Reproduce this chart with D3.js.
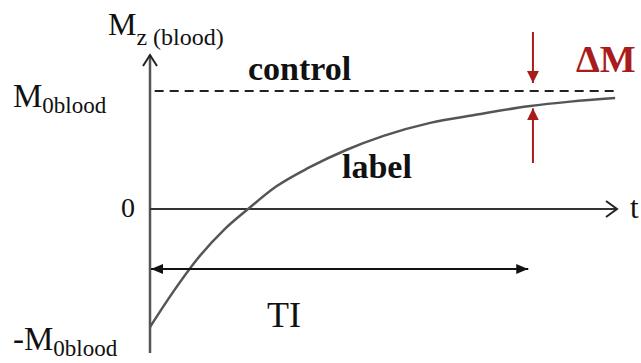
<!DOCTYPE html>
<html>
<head>
<meta charset="utf-8">
<script src="https://cdn.jsdelivr.net/npm/d3@7"></script>
<style>
  @font-face {
    font-family: "ChartSerif";
    font-weight: 400;
    src: local("Liberation Serif"), local("LiberationSerif"), local("Tinos"), local("Times New Roman");
  }
  @font-face {
    font-family: "ChartSerif";
    font-weight: 700;
    src: local("Liberation Serif Bold"), local("LiberationSerif-Bold"), local("Tinos Bold"), local("Times New Roman Bold");
  }
  .serif { font-family: "ChartSerif", "Liberation Serif", "Tinos", "Times New Roman", "FreeSerif"; }
</style>
</head>
<body style="margin:0">
<svg id="chart" width="641" height="363"></svg>
<script>
// Labelled-blood longitudinal magnetisation recovery after inversion.
// Time in arbitrary units, magnetisation in units of M0blood.
const labelT = [0, 5, 10, 16, 21, 27, 34, 42, 50, 60, 70, 81, 90, 99.6];
const labelM = [-1.0, -0.70, -0.43, -0.17, 0, 0.19, 0.35, 0.50, 0.62, 0.73, 0.80, 0.87, 0.91, 0.94];

// Control (non-inverted) blood stays at equilibrium.
const controlT = [1, 99.6];
const controlM = [1, 1];

// Axis tick values and their labels
const tickValues = [1, 0, -1];
const tickLabels = [["M", "0blood"], ["0", ""], ["-M", "0blood"]];

// Inversion time and the point where the difference is read out
const inversionTime = 81;
const readoutTime = 82;

const tMax = 100;
const mTop = 1.305, mBottom = -1.22;

const svg = d3.select("#chart");

// every text element gets the serif face directly
function label(sel) {
  return sel.append("text")
    .attr("class", "serif")
    .style("font-family", '"Liberation Serif", "ChartSerif", "Tinos", "Times New Roman", "FreeSerif"');
}

const x = d3.scaleLinear().domain([0, tMax]).range([150, 617]);
const y = d3.scaleLinear().domain([-1, 1]).range([327, 91]);

const red = "#a81c1c";

// arrow markers
const defs = svg.append("defs");
defs.append("marker").attr("id", "tri").attr("viewBox", "0 0 12 10")
  .attr("refX", 12).attr("refY", 5).attr("markerWidth", 12).attr("markerHeight", 10)
  .attr("markerUnits", "userSpaceOnUse").attr("orient", "auto-start-reverse")
  .append("path").attr("d", "M0,0L12,5L0,10Z").attr("fill", "#111");
defs.append("marker").attr("id", "redTri").attr("viewBox", "0 0 12 12")
  .attr("refX", 12).attr("refY", 6).attr("markerWidth", 12).attr("markerHeight", 12)
  .attr("markerUnits", "userSpaceOnUse").attr("orient", "auto")
  .append("path").attr("d", "M0,0L12,6L0,12Z").attr("fill", red);

// vertical axis with open chevron
svg.append("line")
  .attr("x1", x(0)).attr("x2", x(0))
  .attr("y1", y(mBottom)).attr("y2", y(mTop))
  .attr("stroke", "#555").attr("stroke-width", 2.5);
svg.append("path")
  .attr("d", `M${x(0) - 7},${y(mTop) + 11}L${x(0)},${y(mTop)}L${x(0) + 7},${y(mTop) + 11}`)
  .attr("fill", "none").attr("stroke", "#222").attr("stroke-width", 2);

// time axis through zero with open chevron
svg.append("line")
  .attr("x1", x(0)).attr("x2", x(tMax))
  .attr("y1", y(0)).attr("y2", y(0))
  .attr("stroke", "#333").attr("stroke-width", 1.8);
svg.append("path")
  .attr("d", `M${x(tMax) - 11},${y(0) - 8}L${x(tMax)},${y(0)}L${x(tMax) - 11},${y(0) + 8}`)
  .attr("fill", "none").attr("stroke", "#222").attr("stroke-width", 2);

// control level (dashed)
svg.append("path")
  .datum(controlT.map((t, i) => [t, controlM[i]]))
  .attr("d", d3.line().x(d => x(d[0])).y(d => y(d[1])))
  .attr("fill", "none").attr("stroke", "#222").attr("stroke-width", 2)
  .attr("stroke-dasharray", "9,6");

// labelled recovery curve
svg.append("path")
  .datum(labelT.map((t, i) => [t, labelM[i]]))
  .attr("d", d3.line().curve(d3.curveMonotoneX).x(d => x(d[0])).y(d => y(d[1])))
  .attr("fill", "none").attr("stroke", "#555").attr("stroke-width", 2.5);

// TI double arrow
const tiY = 269;
svg.append("line")
  .attr("x1", x(0) + 1).attr("x2", x(inversionTime))
  .attr("y1", tiY).attr("y2", tiY)
  .attr("stroke", "#111").attr("stroke-width", 2)
  .attr("marker-start", "url(#tri)").attr("marker-end", "url(#tri)");
label(svg).attr("x", 267).attr("y", 327)
  .attr("font-size", 36).attr("fill", "#111").text("TI");

// ΔM arrows
const xr = x(readoutTime);
svg.append("line")
  .attr("x1", xr).attr("x2", xr).attr("y1", 32).attr("y2", y(1) - 8)
  .attr("stroke", red).attr("stroke-width", 2).attr("marker-end", "url(#redTri)");
svg.append("line")
  .attr("x1", xr).attr("x2", xr).attr("y1", 163).attr("y2", y(0.87) + 2)
  .attr("stroke", red).attr("stroke-width", 2).attr("marker-end", "url(#redTri)");
label(svg).attr("x", 576).attr("y", 72)
  .attr("font-size", 38).attr("font-weight", "bold").attr("fill", red).text("ΔM");

// series labels
label(svg).attr("x", 248).attr("y", 80)
  .attr("font-size", 34).attr("font-weight", "bold").attr("fill", "#111").text("control");
label(svg).attr("x", 342).attr("y", 178)
  .attr("font-size", 34).attr("font-weight", "bold").attr("fill", "#111").text("label");

// axis titles
const yt = label(svg).attr("x", 108).attr("y", 35).attr("fill", "#111");
yt.append("tspan").attr("font-size", 32).text("M");
yt.append("tspan").attr("font-size", 24).attr("dy", 10).text("z (blood)");
label(svg).attr("x", 630).attr("y", y(0) + 9)
  .attr("font-size", 31).attr("fill", "#111").text("t");

// tick labels
tickValues.forEach((v, i) => {
  const [main, sub] = tickLabels[i];
  const base = y(v) + (v === 1 ? 16 : v === 0 ? 8 : 23);
  const t = label(svg).attr("fill", "#111").attr("y", base);
  if (sub) {
    t.attr("x", 13);
    t.append("tspan").attr("font-size", 33).text(main);
    t.append("tspan").attr("font-size", 23).attr("dy", 6).text(sub);
  } else {
    t.attr("x", 135).attr("text-anchor", "end").attr("font-size", 28).text(main);
  }
});
</script>
</body>
</html>
